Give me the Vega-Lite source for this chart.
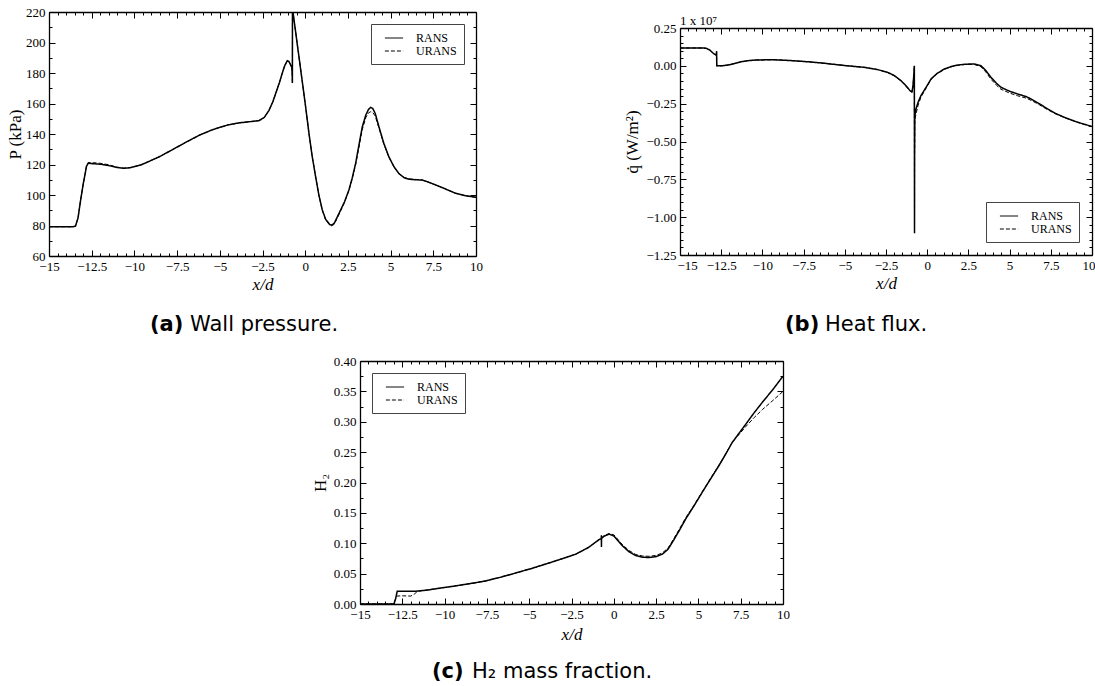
{
  "$schema": "https://vega.github.io/schema/vega-lite/v6.json",
  "background": "white",
  "padding": {"left": 6, "top": 5, "right": 0, "bottom": 0},
  "spacing": 20,
  "resolve": {"scale": {"strokeDash": "independent"}, "legend": {"strokeDash": "independent"}},
  "config": {
    "view": {"stroke": null},
    "axis": {"labelFont": "Liberation Serif", "labelFontSize": 13, "labelColor": "black", "titleFont": "Liberation Serif", "titleFontSize": 17, "titleFontWeight": "normal", "titleColor": "black", "domainColor": "black", "domainWidth": 1.3, "tickColor": "black", "tickWidth": 1, "grid": false, "labelFlush": false, "labelOverlap": false, "labelPadding": 10, "titlePadding": 4},
    "legend": {"strokeColor": "#444", "strokeWidth": 1, "padding": 7, "symbolType": "M-1.4,0H1.4", "symbolSize": 169, "symbolStrokeColor": "black", "symbolStrokeWidth": 1, "symbolOffset": 9, "labelOffset": 15, "labelFont": "Liberation Serif", "labelFontSize": 12, "labelColor": "black", "rowPadding": 0, "fillColor": "white", "offset": 12},
    "title": {"font": "DejaVu Sans", "fontSize": 21, "fontWeight": "bold", "color": "black", "subtitleFont": "DejaVu Sans", "subtitleFontSize": 21, "subtitleFontWeight": "normal", "subtitleColor": "black", "subtitlePadding": -21}
  },
  "vconcat": [
    {
      "spacing": 140,
      "resolve": {"scale": {"strokeDash": "independent"}, "legend": {"strokeDash": "independent"}},
      "hconcat": [
        {
          "width": 427, "height": 244,
          "title": {"text": "(a)", "subtitle": "\u200b\u00a0\u00a0\u00a0\u00a0\u00a0\u00a0Wall pressure.", "orient": "bottom", "anchor": "start", "frame": "group", "dx": 101, "offset": 22},
          "data": {"values": [
            {"s":"RANS","x":-15,"v":79.2},{"s":"RANS","x":-14,"v":79.2},{"s":"RANS","x":-13.6,"v":79.2},{"s":"RANS","x":-13.45,"v":79.6},{"s":"RANS","x":-13.3,"v":85},{"s":"RANS","x":-13.15,"v":96.5},{"s":"RANS","x":-13.0,"v":107},{"s":"RANS","x":-12.9,"v":113},{"s":"RANS","x":-12.8,"v":119},{"s":"RANS","x":-12.7,"v":120.8},{"s":"RANS","x":-12.4,"v":120.5},{"s":"RANS","x":-12.0,"v":120.2},{"s":"RANS","x":-11.5,"v":119.3},{"s":"RANS","x":-11.0,"v":118},{"s":"RANS","x":-10.6,"v":117.5},{"s":"RANS","x":-10.2,"v":118},{"s":"RANS","x":-9.6,"v":119.8},{"s":"RANS","x":-9.15,"v":122},{"s":"RANS","x":-8.5,"v":125.3},{"s":"RANS","x":-7.68,"v":130.3},{"s":"RANS","x":-7.0,"v":134.5},{"s":"RANS","x":-6.2,"v":139.2},{"s":"RANS","x":-5.5,"v":142.5},{"s":"RANS","x":-5.05,"v":144.2},{"s":"RANS","x":-4.5,"v":146},{"s":"RANS","x":-3.88,"v":147.3},{"s":"RANS","x":-3.3,"v":148},{"s":"RANS","x":-2.7,"v":148.8},{"s":"RANS","x":-2.4,"v":150.8},{"s":"RANS","x":-2.12,"v":155.5},{"s":"RANS","x":-1.9,"v":161},{"s":"RANS","x":-1.73,"v":166.5},{"s":"RANS","x":-1.5,"v":174},{"s":"RANS","x":-1.34,"v":180},{"s":"RANS","x":-1.2,"v":184.8},{"s":"RANS","x":-1.05,"v":188},{"s":"RANS","x":-0.95,"v":187.5},{"s":"RANS","x":-0.85,"v":185.2},{"s":"RANS","x":-0.78,"v":183.5},{"s":"RANS","x":-0.755,"v":178},{"s":"RANS","x":-0.75,"v":173.5},{"s":"RANS","x":-0.745,"v":224},{"s":"RANS","x":-0.71,"v":219.5},{"s":"RANS","x":-0.6,"v":210.3},{"s":"RANS","x":-0.45,"v":197.7},{"s":"RANS","x":-0.3,"v":185.2},{"s":"RANS","x":-0.17,"v":174.3},{"s":"RANS","x":0.0,"v":160},{"s":"RANS","x":0.22,"v":140.5},{"s":"RANS","x":0.4,"v":126},{"s":"RANS","x":0.61,"v":112},{"s":"RANS","x":0.8,"v":100},{"s":"RANS","x":1.0,"v":90.2},{"s":"RANS","x":1.2,"v":84},{"s":"RANS","x":1.45,"v":80.5},{"s":"RANS","x":1.55,"v":80.3},{"s":"RANS","x":1.7,"v":81.5},{"s":"RANS","x":1.98,"v":88},{"s":"RANS","x":2.3,"v":95.5},{"s":"RANS","x":2.56,"v":103.3},{"s":"RANS","x":2.75,"v":111},{"s":"RANS","x":2.95,"v":120.6},{"s":"RANS","x":3.15,"v":133},{"s":"RANS","x":3.34,"v":144.6},{"s":"RANS","x":3.55,"v":152.5},{"s":"RANS","x":3.7,"v":156},{"s":"RANS","x":3.83,"v":157.5},{"s":"RANS","x":3.95,"v":156.8},{"s":"RANS","x":4.1,"v":153.5},{"s":"RANS","x":4.32,"v":144.6},{"s":"RANS","x":4.6,"v":134},{"s":"RANS","x":4.9,"v":125},{"s":"RANS","x":5.2,"v":118.5},{"s":"RANS","x":5.49,"v":114},{"s":"RANS","x":5.8,"v":111.3},{"s":"RANS","x":6.08,"v":110.3},{"s":"RANS","x":6.5,"v":110},{"s":"RANS","x":6.86,"v":109.8},{"s":"RANS","x":7.2,"v":108.5},{"s":"RANS","x":7.64,"v":106.6},{"s":"RANS","x":8.2,"v":104},{"s":"RANS","x":8.81,"v":101.1},{"s":"RANS","x":9.4,"v":99.5},{"s":"RANS","x":10.0,"v":98.5},
            {"s":"URANS","x":-15,"v":79.2},{"s":"URANS","x":-14,"v":79.2},{"s":"URANS","x":-13.6,"v":79.2},{"s":"URANS","x":-13.45,"v":79.6},{"s":"URANS","x":-13.3,"v":85},{"s":"URANS","x":-13.15,"v":96.5},{"s":"URANS","x":-13.0,"v":107},{"s":"URANS","x":-12.9,"v":113},{"s":"URANS","x":-12.8,"v":119.3},{"s":"URANS","x":-12.7,"v":121.3},{"s":"URANS","x":-12.4,"v":121.2},{"s":"URANS","x":-12.0,"v":120.8},{"s":"URANS","x":-11.5,"v":119.8},{"s":"URANS","x":-11.0,"v":118.2},{"s":"URANS","x":-10.6,"v":117.6},{"s":"URANS","x":-10.2,"v":118},{"s":"URANS","x":-9.6,"v":119.8},{"s":"URANS","x":-9.15,"v":122},{"s":"URANS","x":-8.5,"v":125.3},{"s":"URANS","x":-7.68,"v":130.3},{"s":"URANS","x":-7.0,"v":134.5},{"s":"URANS","x":-6.2,"v":139.2},{"s":"URANS","x":-5.5,"v":142.5},{"s":"URANS","x":-5.05,"v":144.2},{"s":"URANS","x":-4.5,"v":146},{"s":"URANS","x":-3.88,"v":147.3},{"s":"URANS","x":-3.3,"v":148},{"s":"URANS","x":-2.7,"v":148.8},{"s":"URANS","x":-2.4,"v":150.8},{"s":"URANS","x":-2.12,"v":155.5},{"s":"URANS","x":-1.9,"v":161},{"s":"URANS","x":-1.73,"v":166.5},{"s":"URANS","x":-1.5,"v":174},{"s":"URANS","x":-1.34,"v":180},{"s":"URANS","x":-1.2,"v":184.8},{"s":"URANS","x":-1.05,"v":188},{"s":"URANS","x":-0.95,"v":187.5},{"s":"URANS","x":-0.85,"v":185.2},{"s":"URANS","x":-0.78,"v":183.5},{"s":"URANS","x":-0.755,"v":178},{"s":"URANS","x":-0.75,"v":173.5},{"s":"URANS","x":-0.745,"v":224},{"s":"URANS","x":-0.71,"v":219.5},{"s":"URANS","x":-0.6,"v":210.3},{"s":"URANS","x":-0.45,"v":197.7},{"s":"URANS","x":-0.3,"v":185.2},{"s":"URANS","x":-0.17,"v":174.3},{"s":"URANS","x":0.0,"v":160},{"s":"URANS","x":0.22,"v":140.5},{"s":"URANS","x":0.4,"v":126},{"s":"URANS","x":0.61,"v":112},{"s":"URANS","x":0.8,"v":100},{"s":"URANS","x":1.0,"v":90},{"s":"URANS","x":1.2,"v":83.6},{"s":"URANS","x":1.45,"v":80.0},{"s":"URANS","x":1.55,"v":79.8},{"s":"URANS","x":1.7,"v":80.8},{"s":"URANS","x":1.98,"v":87.2},{"s":"URANS","x":2.3,"v":95},{"s":"URANS","x":2.56,"v":103},{"s":"URANS","x":2.75,"v":110.5},{"s":"URANS","x":2.95,"v":119.8},{"s":"URANS","x":3.15,"v":131.5},{"s":"URANS","x":3.34,"v":142.8},{"s":"URANS","x":3.55,"v":150.8},{"s":"URANS","x":3.7,"v":153.8},{"s":"URANS","x":3.83,"v":154.6},{"s":"URANS","x":3.95,"v":154.2},{"s":"URANS","x":4.1,"v":151.8},{"s":"URANS","x":4.32,"v":143.8},{"s":"URANS","x":4.6,"v":133.5},{"s":"URANS","x":4.9,"v":124.8},{"s":"URANS","x":5.2,"v":118.5},{"s":"URANS","x":5.49,"v":114},{"s":"URANS","x":5.8,"v":111.5},{"s":"URANS","x":6.08,"v":110.6},{"s":"URANS","x":6.5,"v":110.2},{"s":"URANS","x":6.86,"v":109.8},{"s":"URANS","x":7.2,"v":108.5},{"s":"URANS","x":7.64,"v":106.6},{"s":"URANS","x":8.2,"v":104},{"s":"URANS","x":8.81,"v":101.1},{"s":"URANS","x":9.4,"v":99.5},{"s":"URANS","x":10.0,"v":98.5}
          ]},
          "layer": [
            {
              "mark": {"type": "line", "clip": true, "color": "black"},
              "encoding": {
                "x": {"field": "x", "type": "quantitative", "scale": {"domain": [-15, 10], "nice": false, "zero": false},
                  "axis": {"orient": "bottom", "title": "x/d", "titleFontStyle": "italic", "format": "~g", "titlePadding": 0,
                    "values": [-15,-14.5,-14,-13.5,-13,-12.5,-12,-11.5,-11,-10.5,-10,-9.5,-9,-8.5,-8,-7.5,-7,-6.5,-6,-5.5,-5,-4.5,-4,-3.5,-3,-2.5,-2,-1.5,-1,-0.5,0,0.5,1,1.5,2,2.5,3,3.5,4,4.5,5,5.5,6,6.5,7,7.5,8,8.5,9,9.5,10],
                    "labelExpr": "abs(datum.value/2.5-round(datum.value/2.5))<1e-6 ? datum.label : ''",
                    "tickSize": {"condition": {"test": "abs(datum.value/2.5-round(datum.value/2.5))<1e-6", "value": -6}, "value": -3}}},
                "y": {"field": "v", "type": "quantitative", "scale": {"domain": [60, 220], "nice": false, "zero": false},
                  "axis": {"orient": "left", "title": "P (kPa)", "format": "d", "titlePadding": 1,
                    "values": [60,70,80,90,100,110,120,130,140,150,160,170,180,190,200,210,220],
                    "labelExpr": "abs(datum.value/20-round(datum.value/20))<1e-6 ? datum.label : ''",
                    "tickSize": {"condition": {"test": "abs(datum.value/20-round(datum.value/20))<1e-6", "value": -6}, "value": -3}}},
                "strokeDash": {"field": "s", "type": "nominal", "scale": {"domain": ["RANS", "URANS"], "range": [[1, 0], [4, 2]]},
                  "legend": {"title": null, "orient": "top-right", "offset": 12}},
                "strokeWidth": {"condition": {"test": "datum.s === 'RANS'", "value": 1.5}, "value": 1}
              }
            },
            {
              "mark": {"type": "line", "opacity": 0},
              "encoding": {
                "x": {"field": "x", "type": "quantitative",
                  "axis": {"orient": "top", "title": null, "labels": false,
                    "values": [-15,-14.5,-14,-13.5,-13,-12.5,-12,-11.5,-11,-10.5,-10,-9.5,-9,-8.5,-8,-7.5,-7,-6.5,-6,-5.5,-5,-4.5,-4,-3.5,-3,-2.5,-2,-1.5,-1,-0.5,0,0.5,1,1.5,2,2.5,3,3.5,4,4.5,5,5.5,6,6.5,7,7.5,8,8.5,9,9.5,10],
                    "tickSize": {"condition": {"test": "abs(datum.value/2.5-round(datum.value/2.5))<1e-6", "value": -6}, "value": -3}}},
                "y": {"field": "v", "type": "quantitative",
                  "axis": {"orient": "right", "title": null, "labels": false,
                    "values": [60,70,80,90,100,110,120,130,140,150,160,170,180,190,200,210,220],
                    "tickSize": {"condition": {"test": "abs(datum.value/20-round(datum.value/20))<1e-6", "value": -6}, "value": -3}}}
              }
            }
          ]
        },
        {
          "spacing": 2,
          "resolve": {"scale": {"strokeDash": "independent"}, "legend": {"strokeDash": "independent"}},
          "title": {"text": "(b)", "subtitle": "\u200b\u00a0\u00a0\u00a0\u00a0\u00a0\u00a0Heat flux.", "orient": "bottom", "anchor": "start", "frame": "group", "dx": 105, "offset": 23},
          "vconcat": [
            {"width": 10, "height": 1, "data": {"values": []}, "mark": "point", "encoding": {}},
            {
              "width": 412, "height": 227,
              "title": {"text": "1 x 10\u2077", "orient": "top", "anchor": "start", "frame": "group", "font": "Liberation Serif", "fontSize": 13, "fontWeight": "normal", "offset": -6},
              "data": {"values": [
                {"s":"RANS","x":-15,"v":0.118},{"s":"RANS","x":-14,"v":0.118},{"s":"RANS","x":-13.6,"v":0.118},{"s":"RANS","x":-13.42,"v":0.116},{"s":"RANS","x":-13.2,"v":0.105},{"s":"RANS","x":-13.0,"v":0.085},{"s":"RANS","x":-12.92,"v":0.078},{"s":"RANS","x":-12.8,"v":0.07},{"s":"RANS","x":-12.78,"v":0.096},{"s":"RANS","x":-12.77,"v":0.0},{"s":"RANS","x":-12.5,"v":0.0},{"s":"RANS","x":-12.1,"v":0.005},{"s":"RANS","x":-11.7,"v":0.015},{"s":"RANS","x":-11.3,"v":0.027},{"s":"RANS","x":-10.8,"v":0.035},{"s":"RANS","x":-10.29,"v":0.039},{"s":"RANS","x":-9.28,"v":0.04},{"s":"RANS","x":-8.3,"v":0.035},{"s":"RANS","x":-7.25,"v":0.027},{"s":"RANS","x":-6.5,"v":0.02},{"s":"RANS","x":-5.84,"v":0.012},{"s":"RANS","x":-5.0,"v":0.002},{"s":"RANS","x":-3.82,"v":-0.01},{"s":"RANS","x":-3.0,"v":-0.025},{"s":"RANS","x":-2.4,"v":-0.043},{"s":"RANS","x":-2.0,"v":-0.064},{"s":"RANS","x":-1.59,"v":-0.098},{"s":"RANS","x":-1.3,"v":-0.13},{"s":"RANS","x":-1.04,"v":-0.164},{"s":"RANS","x":-0.92,"v":-0.171},{"s":"RANS","x":-0.86,"v":-0.13},{"s":"RANS","x":-0.8,"v":-0.04},{"s":"RANS","x":-0.78,"v":0.0},{"s":"RANS","x":-0.775,"v":-0.5},{"s":"RANS","x":-0.77,"v":-1.107},{"s":"RANS","x":-0.765,"v":-0.6},{"s":"RANS","x":-0.75,"v":-0.33},{"s":"RANS","x":-0.68,"v":-0.285},{"s":"RANS","x":-0.55,"v":-0.24},{"s":"RANS","x":-0.38,"v":-0.197},{"s":"RANS","x":0.0,"v":-0.13},{"s":"RANS","x":0.23,"v":-0.087},{"s":"RANS","x":0.6,"v":-0.05},{"s":"RANS","x":1.04,"v":-0.021},{"s":"RANS","x":1.5,"v":-0.003},{"s":"RANS","x":1.85,"v":0.005},{"s":"RANS","x":2.3,"v":0.011},{"s":"RANS","x":2.86,"v":0.012},{"s":"RANS","x":3.26,"v":0.001},{"s":"RANS","x":3.55,"v":-0.03},{"s":"RANS","x":3.87,"v":-0.076},{"s":"RANS","x":4.2,"v":-0.115},{"s":"RANS","x":4.48,"v":-0.142},{"s":"RANS","x":5.0,"v":-0.168},{"s":"RANS","x":5.49,"v":-0.186},{"s":"RANS","x":6.0,"v":-0.203},{"s":"RANS","x":6.3,"v":-0.219},{"s":"RANS","x":6.8,"v":-0.25},{"s":"RANS","x":7.31,"v":-0.285},{"s":"RANS","x":7.8,"v":-0.315},{"s":"RANS","x":8.32,"v":-0.34},{"s":"RANS","x":9.0,"v":-0.368},{"s":"RANS","x":9.5,"v":-0.385},{"s":"RANS","x":9.98,"v":-0.4},
                {"s":"URANS","x":-15,"v":0.118},{"s":"URANS","x":-14,"v":0.118},{"s":"URANS","x":-13.6,"v":0.118},{"s":"URANS","x":-13.42,"v":0.116},{"s":"URANS","x":-13.2,"v":0.105},{"s":"URANS","x":-13.0,"v":0.085},{"s":"URANS","x":-12.92,"v":0.078},{"s":"URANS","x":-12.8,"v":0.07},{"s":"URANS","x":-12.78,"v":0.096},{"s":"URANS","x":-12.77,"v":0.0},{"s":"URANS","x":-12.5,"v":0.0},{"s":"URANS","x":-12.1,"v":0.005},{"s":"URANS","x":-11.7,"v":0.015},{"s":"URANS","x":-11.3,"v":0.027},{"s":"URANS","x":-10.8,"v":0.035},{"s":"URANS","x":-10.29,"v":0.039},{"s":"URANS","x":-9.28,"v":0.04},{"s":"URANS","x":-8.3,"v":0.035},{"s":"URANS","x":-7.25,"v":0.027},{"s":"URANS","x":-6.5,"v":0.02},{"s":"URANS","x":-5.84,"v":0.012},{"s":"URANS","x":-5.0,"v":0.002},{"s":"URANS","x":-3.82,"v":-0.01},{"s":"URANS","x":-3.0,"v":-0.025},{"s":"URANS","x":-2.4,"v":-0.045},{"s":"URANS","x":-2.0,"v":-0.066},{"s":"URANS","x":-1.59,"v":-0.1},{"s":"URANS","x":-1.3,"v":-0.133},{"s":"URANS","x":-1.04,"v":-0.168},{"s":"URANS","x":-0.92,"v":-0.175},{"s":"URANS","x":-0.86,"v":-0.13},{"s":"URANS","x":-0.8,"v":-0.04},{"s":"URANS","x":-0.78,"v":0.0},{"s":"URANS","x":-0.775,"v":-0.5},{"s":"URANS","x":-0.77,"v":-1.107},{"s":"URANS","x":-0.765,"v":-0.6},{"s":"URANS","x":-0.75,"v":-0.36},{"s":"URANS","x":-0.68,"v":-0.318},{"s":"URANS","x":-0.55,"v":-0.26},{"s":"URANS","x":-0.38,"v":-0.207},{"s":"URANS","x":0.0,"v":-0.135},{"s":"URANS","x":0.23,"v":-0.09},{"s":"URANS","x":0.6,"v":-0.052},{"s":"URANS","x":1.04,"v":-0.023},{"s":"URANS","x":1.5,"v":-0.005},{"s":"URANS","x":1.85,"v":0.003},{"s":"URANS","x":2.3,"v":0.009},{"s":"URANS","x":2.86,"v":0.009},{"s":"URANS","x":3.26,"v":-0.006},{"s":"URANS","x":3.55,"v":-0.04},{"s":"URANS","x":3.87,"v":-0.088},{"s":"URANS","x":4.2,"v":-0.128},{"s":"URANS","x":4.48,"v":-0.155},{"s":"URANS","x":5.0,"v":-0.18},{"s":"URANS","x":5.49,"v":-0.198},{"s":"URANS","x":6.0,"v":-0.213},{"s":"URANS","x":6.3,"v":-0.228},{"s":"URANS","x":6.8,"v":-0.257},{"s":"URANS","x":7.31,"v":-0.29},{"s":"URANS","x":7.8,"v":-0.318},{"s":"URANS","x":8.32,"v":-0.342},{"s":"URANS","x":9.0,"v":-0.369},{"s":"URANS","x":9.5,"v":-0.386},{"s":"URANS","x":9.98,"v":-0.402}
              ]},
              "layer": [
                {
                  "mark": {"type": "line", "clip": true, "color": "black"},
                  "encoding": {
                    "x": {"field": "x", "type": "quantitative", "scale": {"domain": [-15, 10], "nice": false, "zero": false},
                      "axis": {"orient": "bottom", "title": "x/d", "titleFontStyle": "italic", "format": "~g", "titlePadding": 0, "labelFlush": true, "labelFlushOffset": 3,
                        "values": [-15,-14.5,-14,-13.5,-13,-12.5,-12,-11.5,-11,-10.5,-10,-9.5,-9,-8.5,-8,-7.5,-7,-6.5,-6,-5.5,-5,-4.5,-4,-3.5,-3,-2.5,-2,-1.5,-1,-0.5,0,0.5,1,1.5,2,2.5,3,3.5,4,4.5,5,5.5,6,6.5,7,7.5,8,8.5,9,9.5,10],
                        "labelExpr": "abs(datum.value/2.5-round(datum.value/2.5))<1e-6 ? datum.label : ''",
                        "tickSize": {"condition": {"test": "abs(datum.value/2.5-round(datum.value/2.5))<1e-6", "value": -6}, "value": -3}}},
                    "y": {"field": "v", "type": "quantitative", "scale": {"domain": [-1.25, 0.25], "nice": false, "zero": false},
                      "axis": {"orient": "left", "title": "q\u0307 (W/m\u00b2)", "format": ".2f",
                        "values": [-1.25,-1.2,-1.15,-1.1,-1.05,-1,-0.95,-0.9,-0.85,-0.8,-0.75,-0.7,-0.65,-0.6,-0.55,-0.5,-0.45,-0.4,-0.35,-0.3,-0.25,-0.2,-0.15,-0.1,-0.05,0,0.05,0.1,0.15,0.2,0.25],
                        "labelExpr": "abs(datum.value/0.25-round(datum.value/0.25))<1e-6 ? datum.label : ''",
                        "tickSize": {"condition": {"test": "abs(datum.value/0.25-round(datum.value/0.25))<1e-6", "value": -6}, "value": -3}}},
                    "strokeDash": {"field": "s", "type": "nominal", "scale": {"domain": ["RANS", "URANS"], "range": [[1, 0], [4, 2]]},
                      "legend": {"title": null, "orient": "bottom-right", "offset": 13}},
                    "strokeWidth": {"condition": {"test": "datum.s === 'RANS'", "value": 1.5}, "value": 1}
                  }
                },
                {
                  "mark": {"type": "line", "opacity": 0},
                  "encoding": {
                    "x": {"field": "x", "type": "quantitative",
                      "axis": {"orient": "top", "title": null, "labels": false,
                        "values": [-15,-14.5,-14,-13.5,-13,-12.5,-12,-11.5,-11,-10.5,-10,-9.5,-9,-8.5,-8,-7.5,-7,-6.5,-6,-5.5,-5,-4.5,-4,-3.5,-3,-2.5,-2,-1.5,-1,-0.5,0,0.5,1,1.5,2,2.5,3,3.5,4,4.5,5,5.5,6,6.5,7,7.5,8,8.5,9,9.5,10],
                        "tickSize": {"condition": {"test": "abs(datum.value/2.5-round(datum.value/2.5))<1e-6", "value": -6}, "value": -3}}},
                    "y": {"field": "v", "type": "quantitative",
                      "axis": {"orient": "right", "title": null, "labels": false,
                        "values": [-1.25,-1.2,-1.15,-1.1,-1.05,-1,-0.95,-0.9,-0.85,-0.8,-0.75,-0.7,-0.65,-0.6,-0.55,-0.5,-0.45,-0.4,-0.35,-0.3,-0.25,-0.2,-0.15,-0.1,-0.05,0,0.05,0.1,0.15,0.2,0.25],
                        "tickSize": {"condition": {"test": "abs(datum.value/0.25-round(datum.value/0.25))<1e-6", "value": -6}, "value": -3}}}
                  }
                }
              ]
            }
          ]
        }
      ]
    },
    {
      "spacing": 20,
      "resolve": {"scale": {"strokeDash": "independent"}, "legend": {"strokeDash": "independent"}},
      "hconcat": [
        {"width": 242, "height": 1, "data": {"values": []}, "mark": "point", "encoding": {}},
        {
          "width": 423, "height": 243,
          "title": {"text": "(c)", "subtitle": "\u200b\u00a0\u00a0\u00a0\u00a0\u00a0\u00a0H\u2082 mass fraction.", "orient": "bottom", "anchor": "start", "frame": "group", "dx": 72, "offset": 19},
          "data": {"values": [
            {"s":"RANS","x":-15,"v":0},{"s":"RANS","x":-13.0,"v":0},{"s":"RANS","x":-12.9,"v":0.008},{"s":"RANS","x":-12.8,"v":0.021},{"s":"RANS","x":-12.3,"v":0.021},{"s":"RANS","x":-11.71,"v":0.021},{"s":"RANS","x":-11.0,"v":0.023},{"s":"RANS","x":-10.3,"v":0.026},{"s":"RANS","x":-9.54,"v":0.029},{"s":"RANS","x":-8.26,"v":0.0346},{"s":"RANS","x":-7.57,"v":0.038},{"s":"RANS","x":-6.7,"v":0.044},{"s":"RANS","x":-5.8,"v":0.051},{"s":"RANS","x":-4.8,"v":0.059},{"s":"RANS","x":-3.83,"v":0.0675},{"s":"RANS","x":-3.0,"v":0.075},{"s":"RANS","x":-2.25,"v":0.082},{"s":"RANS","x":-1.5,"v":0.093},{"s":"RANS","x":-0.87,"v":0.106},{"s":"RANS","x":-0.74,"v":0.108},{"s":"RANS","x":-0.735,"v":0.113},{"s":"RANS","x":-0.73,"v":0.094},{"s":"RANS","x":-0.725,"v":0.108},{"s":"RANS","x":-0.55,"v":0.112},{"s":"RANS","x":-0.28,"v":0.115},{"s":"RANS","x":0.0,"v":0.112},{"s":"RANS","x":0.5,"v":0.096},{"s":"RANS","x":0.9,"v":0.086},{"s":"RANS","x":1.3,"v":0.0796},{"s":"RANS","x":1.7,"v":0.077},{"s":"RANS","x":2.08,"v":0.0765},{"s":"RANS","x":2.5,"v":0.078},{"s":"RANS","x":2.87,"v":0.082},{"s":"RANS","x":3.2,"v":0.09},{"s":"RANS","x":3.46,"v":0.1015},{"s":"RANS","x":3.85,"v":0.12},{"s":"RANS","x":4.25,"v":0.14},{"s":"RANS","x":4.75,"v":0.162},{"s":"RANS","x":5.23,"v":0.184},{"s":"RANS","x":5.7,"v":0.205},{"s":"RANS","x":6.22,"v":0.228},{"s":"RANS","x":6.6,"v":0.246},{"s":"RANS","x":7.0,"v":0.266},{"s":"RANS","x":7.4,"v":0.281},{"s":"RANS","x":7.8,"v":0.296},{"s":"RANS","x":8.3,"v":0.315},{"s":"RANS","x":8.78,"v":0.332},{"s":"RANS","x":9.4,"v":0.353},{"s":"RANS","x":10.0,"v":0.375},
            {"s":"URANS","x":-15,"v":0},{"s":"URANS","x":-13.0,"v":0},{"s":"URANS","x":-12.85,"v":0.013},{"s":"URANS","x":-12.5,"v":0.0135},{"s":"URANS","x":-12.0,"v":0.013},{"s":"URANS","x":-11.8,"v":0.016},{"s":"URANS","x":-11.6,"v":0.021},{"s":"URANS","x":-11.0,"v":0.023},{"s":"URANS","x":-10.3,"v":0.026},{"s":"URANS","x":-9.54,"v":0.029},{"s":"URANS","x":-8.26,"v":0.0346},{"s":"URANS","x":-7.57,"v":0.038},{"s":"URANS","x":-6.7,"v":0.044},{"s":"URANS","x":-5.8,"v":0.051},{"s":"URANS","x":-4.8,"v":0.059},{"s":"URANS","x":-3.83,"v":0.0675},{"s":"URANS","x":-3.0,"v":0.075},{"s":"URANS","x":-2.25,"v":0.082},{"s":"URANS","x":-1.5,"v":0.093},{"s":"URANS","x":-0.87,"v":0.106},{"s":"URANS","x":-0.55,"v":0.113},{"s":"URANS","x":-0.28,"v":0.116},{"s":"URANS","x":0.0,"v":0.114},{"s":"URANS","x":0.5,"v":0.098},{"s":"URANS","x":0.9,"v":0.088},{"s":"URANS","x":1.3,"v":0.0815},{"s":"URANS","x":1.7,"v":0.079},{"s":"URANS","x":2.08,"v":0.0785},{"s":"URANS","x":2.5,"v":0.08},{"s":"URANS","x":2.87,"v":0.084},{"s":"URANS","x":3.2,"v":0.092},{"s":"URANS","x":3.46,"v":0.1035},{"s":"URANS","x":3.85,"v":0.122},{"s":"URANS","x":4.25,"v":0.142},{"s":"URANS","x":4.75,"v":0.163},{"s":"URANS","x":5.23,"v":0.185},{"s":"URANS","x":5.7,"v":0.206},{"s":"URANS","x":6.22,"v":0.229},{"s":"URANS","x":6.6,"v":0.247},{"s":"URANS","x":7.0,"v":0.266},{"s":"URANS","x":7.4,"v":0.279},{"s":"URANS","x":7.8,"v":0.292},{"s":"URANS","x":8.3,"v":0.307},{"s":"URANS","x":8.78,"v":0.32},{"s":"URANS","x":9.4,"v":0.335},{"s":"URANS","x":10.0,"v":0.35}
          ]},
          "layer": [
            {
              "mark": {"type": "line", "clip": true, "color": "black"},
              "encoding": {
                "x": {"field": "x", "type": "quantitative", "scale": {"domain": [-15, 10], "nice": false, "zero": false},
                  "axis": {"orient": "bottom", "title": "x/d", "titleFontStyle": "italic", "format": "~g", "titlePadding": 2,
                    "values": [-15,-14.5,-14,-13.5,-13,-12.5,-12,-11.5,-11,-10.5,-10,-9.5,-9,-8.5,-8,-7.5,-7,-6.5,-6,-5.5,-5,-4.5,-4,-3.5,-3,-2.5,-2,-1.5,-1,-0.5,0,0.5,1,1.5,2,2.5,3,3.5,4,4.5,5,5.5,6,6.5,7,7.5,8,8.5,9,9.5,10],
                    "labelExpr": "abs(datum.value/2.5-round(datum.value/2.5))<1e-6 ? datum.label : ''",
                    "tickSize": {"condition": {"test": "abs(datum.value/2.5-round(datum.value/2.5))<1e-6", "value": -6}, "value": -3}}},
                "y": {"field": "v", "type": "quantitative", "scale": {"domain": [0, 0.4], "nice": false},
                  "axis": {"orient": "left", "title": "H\u2082", "format": ".2f",
                    "values": [0,0.025,0.05,0.075,0.1,0.125,0.15,0.175,0.2,0.225,0.25,0.275,0.3,0.325,0.35,0.375,0.4],
                    "labelExpr": "abs(datum.value/0.05-round(datum.value/0.05))<1e-6 ? datum.label : ''",
                    "tickSize": {"condition": {"test": "abs(datum.value/0.05-round(datum.value/0.05))<1e-6", "value": -6}, "value": -3}}},
                "strokeDash": {"field": "s", "type": "nominal", "scale": {"domain": ["RANS", "URANS"], "range": [[1, 0], [4, 2]]},
                  "legend": {"title": null, "orient": "top-left", "offset": 12}},
                "strokeWidth": {"condition": {"test": "datum.s === 'RANS'", "value": 1.5}, "value": 1}
              }
            },
            {
              "mark": {"type": "line", "opacity": 0},
              "encoding": {
                "x": {"field": "x", "type": "quantitative",
                  "axis": {"orient": "top", "title": null, "labels": false,
                    "values": [-15,-14.5,-14,-13.5,-13,-12.5,-12,-11.5,-11,-10.5,-10,-9.5,-9,-8.5,-8,-7.5,-7,-6.5,-6,-5.5,-5,-4.5,-4,-3.5,-3,-2.5,-2,-1.5,-1,-0.5,0,0.5,1,1.5,2,2.5,3,3.5,4,4.5,5,5.5,6,6.5,7,7.5,8,8.5,9,9.5,10],
                    "tickSize": {"condition": {"test": "abs(datum.value/2.5-round(datum.value/2.5))<1e-6", "value": -6}, "value": -3}}},
                "y": {"field": "v", "type": "quantitative",
                  "axis": {"orient": "right", "title": null, "labels": false,
                    "values": [0,0.025,0.05,0.075,0.1,0.125,0.15,0.175,0.2,0.225,0.25,0.275,0.3,0.325,0.35,0.375,0.4],
                    "tickSize": {"condition": {"test": "abs(datum.value/0.05-round(datum.value/0.05))<1e-6", "value": -6}, "value": -3}}}
              }
            }
          ]
        }
      ]
    }
  ]
}
